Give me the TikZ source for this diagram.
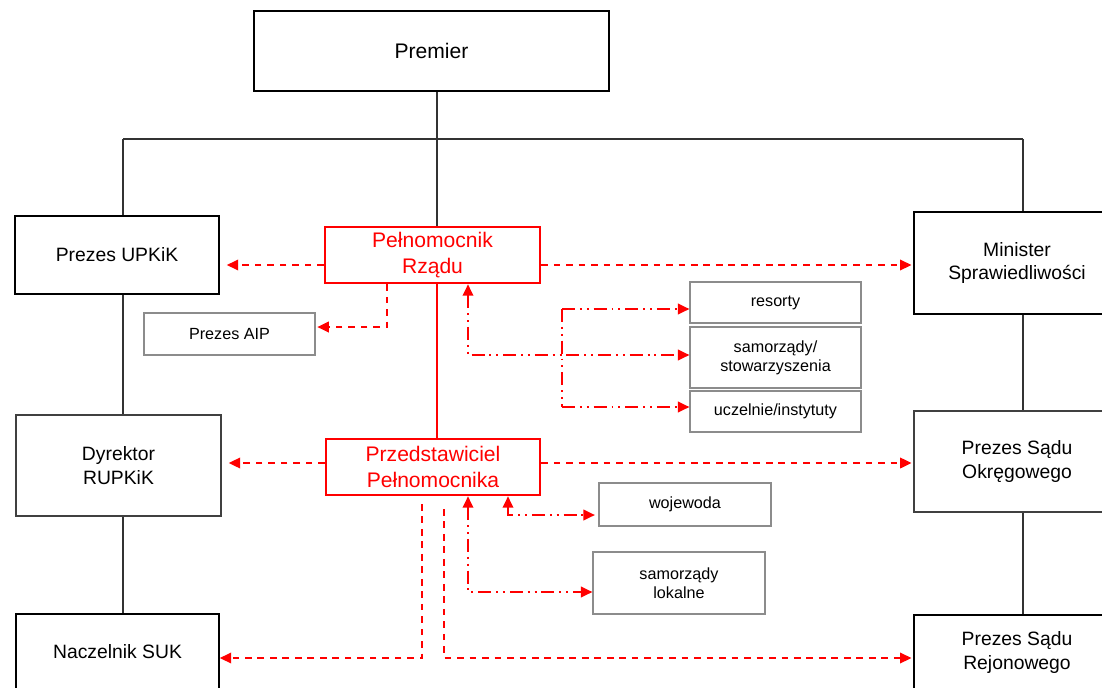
\documentclass[tikz,border=0pt]{standalone}
\usepackage{fontspec}
\setmainfont{Liberation Sans}
\usetikzlibrary{arrows.meta, positioning}
\tikzset{
>={Triangle[length=6.5pt,width=6pt]}, % filled arrow heads
every node/.style={inner sep=0pt, align=center},
mainbox/.style={draw=black, line width=0.9pt, font=\fontsize{11}{13.5}\selectfont},
lowbox/.style={draw=black!75, line width=0.8pt, font=\fontsize{11}{14}\selectfont},
smallbox/.style={draw=black!45, line width=0.7pt, font=\fontsize{9.2}{11}\selectfont},
redbox/.style={draw=red, line width=1.5pt, text=red, font=\fontsize{12}{15}\selectfont},
link/.style={draw=black!80, line width=0.6pt},
redlink/.style={draw=red, line width=0.9pt},
dasharrow/.style={red, line width=1pt, dash pattern=on 3.8pt off 3.3pt, ->},
dotline/.style={red, line width=1pt, dash pattern=on 7.4pt off 2.8pt on 1.1pt off 2.8pt on 1.1pt off 2.8pt},
}

\begin{document}
\begin{tikzpicture}[x=0.02cm, y=-0.02cm]
    \useasboundingbox (0,0) rectangle (1102,687);
    \clip (0,0) rectangle (1102,687);
    % boxes
    \node[mainbox, minimum width=7.1cm, minimum height=1.6cm, font=\fontsize{12}{14}\selectfont] (premier) at (431.5,51) {Premier};
    \node[mainbox, minimum width=4.08cm, minimum height=1.56cm] (upkik) at (117,255) {Prezes UPKiK};
    \node[redbox, minimum width=4.3cm, minimum height=1.12cm] (pelnom) at (432.5,255) {Pełnomocnik\\Rządu};
    \node[mainbox, minimum width=4.12cm, minimum height=2.04cm] (minister) at (1017,263) {Minister\\Sprawiedliwości};
    \node[smallbox, minimum width=3.42cm, minimum height=0.84cm] (aip) at (229.5,334) {Prezes AIP};
    \node[smallbox, minimum width=3.42cm, minimum height=0.82cm] (resorty) at (775.5,302.5) {resorty};
    \node[smallbox, minimum width=3.42cm, minimum height=1.22cm] (samstow) at (775.5,357.5) {samorządy/\\stowarzyszenia};
    \node[smallbox, minimum width=3.42cm, minimum height=0.82cm] (uczelnie) at (775.5,411.5) {uczelnie/instytuty};
    \node[lowbox, minimum width=4.1cm, minimum height=2.02cm] (dyrektor) at (118.5,465.5) {Dyrektor\\RUPKiK};
    \node[redbox, minimum width=4.28cm, minimum height=1.12cm] (przed) at (433,467) {Przedstawiciel\\Pełnomocnika};
    \node[lowbox, minimum width=4.12cm, minimum height=2.02cm] (okreg) at (1017,461.5) {Prezes Sądu\\Okręgowego};
    \node[smallbox, minimum width=3.44cm, minimum height=0.86cm] (wojewoda) at (685,504.5) {wojewoda};
    \node[smallbox, minimum width=3.44cm, minimum height=1.24cm] (samlok) at (679,583) {samorządy\\lokalne};
    \node[mainbox, minimum width=4.06cm, minimum height=1.52cm] (naczelnik) at (117.5,652) {Naczelnik SUK};
    \node[mainbox, minimum width=4.12cm, minimum height=1.5cm] (rejon) at (1017,652.5) {Prezes Sądu\\Rejonowego};

    % hierarchy
    \coordinate (bus) at (437,139);
    \coordinate (busL) at (123,139);
    \coordinate (busR) at (1023,139);
    \draw[link] (premier.south -| bus) -- (bus);
    \draw[link] (busL) -- (busR);
    \draw[link] (busL) -- (busL |- upkik.north);
    \draw[link] (bus) -- (bus |- pelnom.north);
    \draw[link] (busR) -- (busR |- minister.north);
    \draw[link] (upkik.south -| busL) -- (busL |- dyrektor.north);
    \draw[link] (dyrektor.south -| busL) -- (busL |- naczelnik.north);
    \draw[link] (minister.south -| busR) -- (busR |- okreg.north);
    \draw[link] (okreg.south -| busR) -- (busR |- rejon.north);
    \draw[redlink] (pelnom.south -| bus) -- (bus |- przed.north);

    % Pelnomocnik Rzadu
    \coordinate (lvA) at (0,265);
    \draw[dasharrow, shorten >=4pt] (pelnom.west |- lvA) -- (upkik.east |- lvA);
    \draw[dasharrow, shorten >=1pt] (pelnom.east |- lvA) -- (minister.west |- lvA);
    \coordinate (aipA) at (387,327);
    \draw[dasharrow, shorten >=1pt] (pelnom.south -| aipA) |- (aip.east |- aipA);
    \coordinate (kA) at (468,355);
    \draw[dotline, <->] (pelnom.south -| kA) |- (samstow.west |- kA);
    \coordinate (kT) at (562,309);
    \coordinate (kB) at (562,407);
    \draw[dotline, ->] (kT) -- (resorty.west |- kT);
    \draw[dotline] (kT) -- (kB);
    \draw[dotline, ->] (kB) -- (uczelnie.west |- kB);

    % Przedstawiciel Pelnomocnika
    \coordinate (lvB) at (0,463);
    \draw[dasharrow, shorten >=4pt] (przed.west |- lvB) -- (dyrektor.east |- lvB);
    \draw[dasharrow, shorten >=1pt] (przed.east |- lvB) -- (okreg.west |- lvB);
    \coordinate (wA) at (508,515);
    \draw[dotline, <->, shorten >=2pt] (przed.south -| wA) |- (wojewoda.west |- wA);
    \coordinate (sA) at (468,592);
    \draw[dotline, <->] (przed.south -| sA) |- (samlok.west |- sA);
    \coordinate (nA) at (422,504);
    \coordinate (nB) at (444,509);
    \coordinate (lvC) at (0,658);
    \draw[dasharrow] (nA) |- (naczelnik.east |- lvC);
    \draw[dasharrow, shorten >=1pt] (nB) |- (rejon.west |- lvC);
\end{tikzpicture}
\end{document}
